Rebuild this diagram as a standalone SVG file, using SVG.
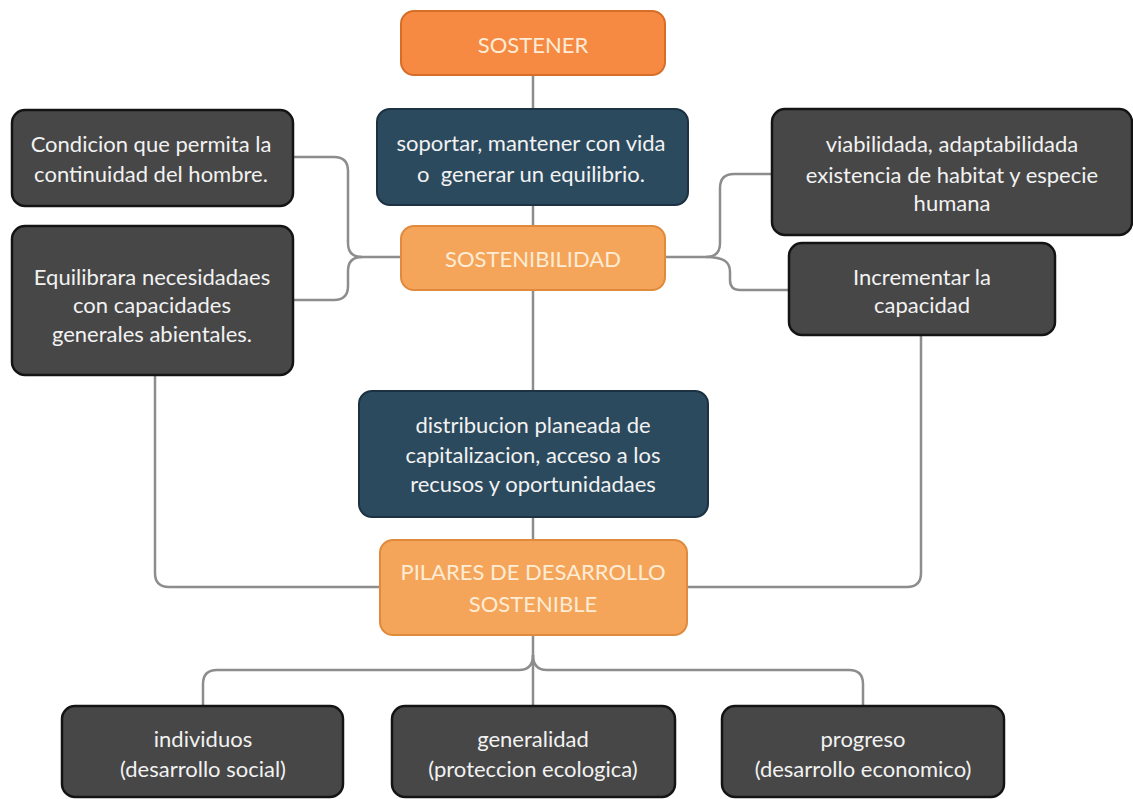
<svg xmlns="http://www.w3.org/2000/svg" width="1133" height="799" viewBox="0 0 1133 799">
<style>
.o1{fill:#f68a43;stroke:#d66e28;stroke-width:2}
.o2{fill:#f5a559;stroke:#df8a3c;stroke-width:2}
.tl{fill:#2c4a5e;stroke:#1c3142;stroke-width:2}
.gr{fill:#474747;stroke:#141414;stroke-width:2.5}
text{font-family:Lato,"Liberation Sans",sans-serif;font-size:22px;text-anchor:middle;fill:#f2f2f2;white-space:pre}
.ot{fill:#fdecd6}
.c{fill:none;stroke:#8d8d8d;stroke-width:2.5}
</style>
<rect width="1133" height="799" fill="#ffffff"/>
<g id="connectors">
<path class="c" d="M533 75V109"/>
<path class="c" d="M533 205V226"/>
<path class="c" d="M533 290V391"/>
<path class="c" d="M533 517V540"/>
<path class="c" d="M401 257H362Q348 257 348 243V171Q348 157 334 157H293"/>
<path class="c" d="M362 257Q348 257 348 271V286Q348 300 334 300H293"/>
<path class="c" d="M665 257H706Q720 257 720 243V188Q720 174 734 174H772"/>
<path class="c" d="M706 257C724 257 730 262 730 272V280Q730 290 740 290H789"/>
<path class="c" d="M155 375V573Q155 587 169 587H380"/>
<path class="c" d="M687 587H907Q921 587 921 573V335"/>
<path class="c" d="M533 635V706"/>
<path class="c" d="M533 655Q533 670 519 670H217Q203 670 203 684V706"/>
<path class="c" d="M533 655Q533 670 547 670H849Q863 670 863 684V706"/>
</g>
<g id="sostener"><rect class="o1" x="401" y="11" width="264" height="64" rx="13"/><text class="ot" x="533" y="53">SOSTENER</text></g>
<g id="soportar"><rect class="tl" x="377" y="109" width="311" height="96" rx="13"/><text x="531" y="151">soportar, mantener con vida</text><text x="531" y="182">o  generar un equilibrio.</text></g>
<g id="sostenibilidad"><rect class="o2" x="401" y="226" width="264" height="64" rx="13"/><text class="ot" x="533" y="267">SOSTENIBILIDAD</text></g>
<g id="condicion"><rect class="gr" x="12" y="110" width="281" height="96" rx="13"/><text x="151" y="152">Condicion que permita la</text><text x="151" y="182">continuidad del hombre.</text></g>
<g id="equilibrara"><rect class="gr" x="12" y="226" width="281" height="149" rx="13"/><text x="152" y="285">Equilibrara necesidadaes</text><text x="152" y="313">con capacidades</text><text x="152" y="342">generales abientales.</text></g>
<g id="viabilidada"><rect class="gr" x="772" y="109" width="360" height="126" rx="13"/><text x="952" y="152">viabilidada, adaptabilidada</text><text x="952" y="183">existencia de habitat y especie</text><text x="952" y="211">humana</text></g>
<g id="incrementar"><rect class="gr" x="789" y="243" width="266" height="92" rx="13"/><text x="922" y="285">Incrementar la</text><text x="922" y="313">capacidad</text></g>
<g id="distribucion"><rect class="tl" x="359" y="391" width="349" height="126" rx="13"/><text x="533" y="433">distribucion planeada de</text><text x="533" y="463">capitalizacion, acceso a los</text><text x="533" y="492">recusos y oportunidadaes</text></g>
<g id="pilares"><rect class="o2" x="380" y="540" width="307" height="95" rx="13"/><text class="ot" x="533" y="580">PILARES DE DESARROLLO</text><text class="ot" x="533" y="612">SOSTENIBLE</text></g>
<g id="individuos"><rect class="gr" x="62" y="706" width="281" height="91" rx="13"/><text x="203" y="747">individuos</text><text x="203" y="777">(desarrollo social)</text></g>
<g id="generalidad"><rect class="gr" x="392" y="706" width="283" height="91" rx="13"/><text x="533" y="747">generalidad</text><text x="533" y="777">(proteccion ecologica)</text></g>
<g id="progreso"><rect class="gr" x="722" y="706" width="282" height="91" rx="13"/><text x="863" y="747">progreso</text><text x="863" y="777">(desarrollo economico)</text></g>
</svg>
